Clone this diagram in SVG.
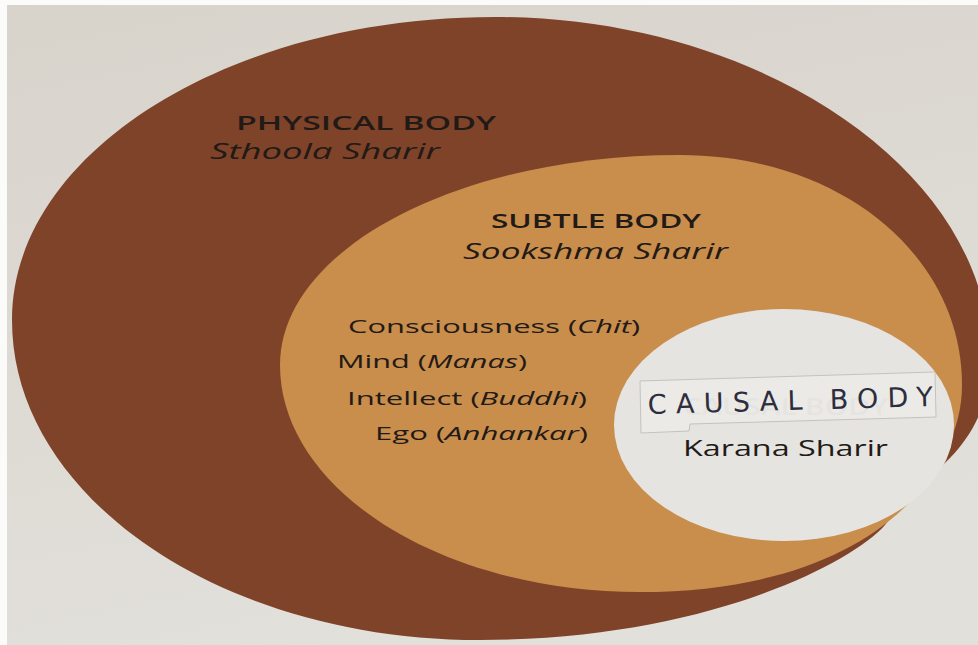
<svg xmlns="http://www.w3.org/2000/svg" width="978" height="645" viewBox="0 0 978 645">
<defs>
<style>
.t{font-family:"Open Sans","Liberation Sans",sans-serif;fill:#211a16}
.h{font-size:20px;font-weight:600}
.s{font-size:21px;font-style:italic}
.l{font-size:18px}
.i{font-style:italic}
.hand{font-family:"DejaVu Sans","Liberation Sans",sans-serif;font-size:27px;fill:#2c2e3d}
</style>
<linearGradient id="bg" x1="0" y1="0" x2="0.3" y2="1">
<stop offset="0" stop-color="#d8d3cb"/>
<stop offset="1" stop-color="#e2e0db"/>
</linearGradient>
</defs>
<rect width="978" height="645" fill="#fbfbfa"/>
<rect x="7" y="5" width="971" height="640" fill="url(#bg)"/>

<g id="physical-body">
<path d="M495,17 C760,17 990,170 990,360 C990,400 975,432 950,458 C930,478 905,498 885,525 C850,565 700,640 480,640 C221,640 12,497 12,320 C12,153 228,17 495,17 Z" fill="#7f4329"/>
<text class="t h" x="236" y="130" textLength="260" lengthAdjust="spacingAndGlyphs">PHYSICAL BODY</text>
<text class="t s" x="210" y="159" textLength="230" lengthAdjust="spacingAndGlyphs">Sthoola Sharir</text>
</g>

<g id="subtle-body">
<path d="M680,155 C840,155 962,255 962,385 C962,430 940,470 905,507 C850,560 760,592 640,592 C441,592 280,490 280,365 C280,249 459,155 680,155 Z" fill="#c98d4c"/>
<text class="t h" x="491" y="228" textLength="210" lengthAdjust="spacingAndGlyphs">SUBTLE BODY</text>
<text class="t s" x="463" y="259" textLength="265" lengthAdjust="spacingAndGlyphs">Sookshma Sharir</text>
<text class="t l" x="348" y="333" textLength="292" lengthAdjust="spacingAndGlyphs">Consciousness (<tspan class="i">Chit</tspan>)</text>
<text class="t l" x="337" y="368" textLength="190" lengthAdjust="spacingAndGlyphs">Mind (<tspan class="i">Manas</tspan>)</text>
<text class="t l" x="347" y="405" textLength="240" lengthAdjust="spacingAndGlyphs">Intellect (<tspan class="i">Buddhi</tspan>)</text>
<text class="t l" x="375" y="440" textLength="213" lengthAdjust="spacingAndGlyphs">Ego (<tspan class="i">Anhankar</tspan>)</text>
</g>

<g id="causal-body">
<ellipse cx="784" cy="425" rx="170" ry="116" fill="#e6e4e0"/>
<text x="683" y="415" font-family="'Open Sans','Liberation Sans',sans-serif" font-size="23" font-weight="600" fill="#d2cfc9" textLength="205" lengthAdjust="spacingAndGlyphs">CAUSAL BODY</text>
<path d="M640,381 L935,372 L936,417 L690,424 L689,431 L641,433 Z" fill="#eeedea" fill-opacity="0.7" stroke="#bcb9b4" stroke-width="0.8"/>
<text class="hand" x="648" y="414" textLength="285" lengthAdjust="spacing" transform="rotate(-1.6 648 414)">CAUSAL BODY</text>
<text class="t" x="683" y="456" font-size="21" textLength="205" lengthAdjust="spacingAndGlyphs">Karana Sharir</text>
</g>
</svg>
